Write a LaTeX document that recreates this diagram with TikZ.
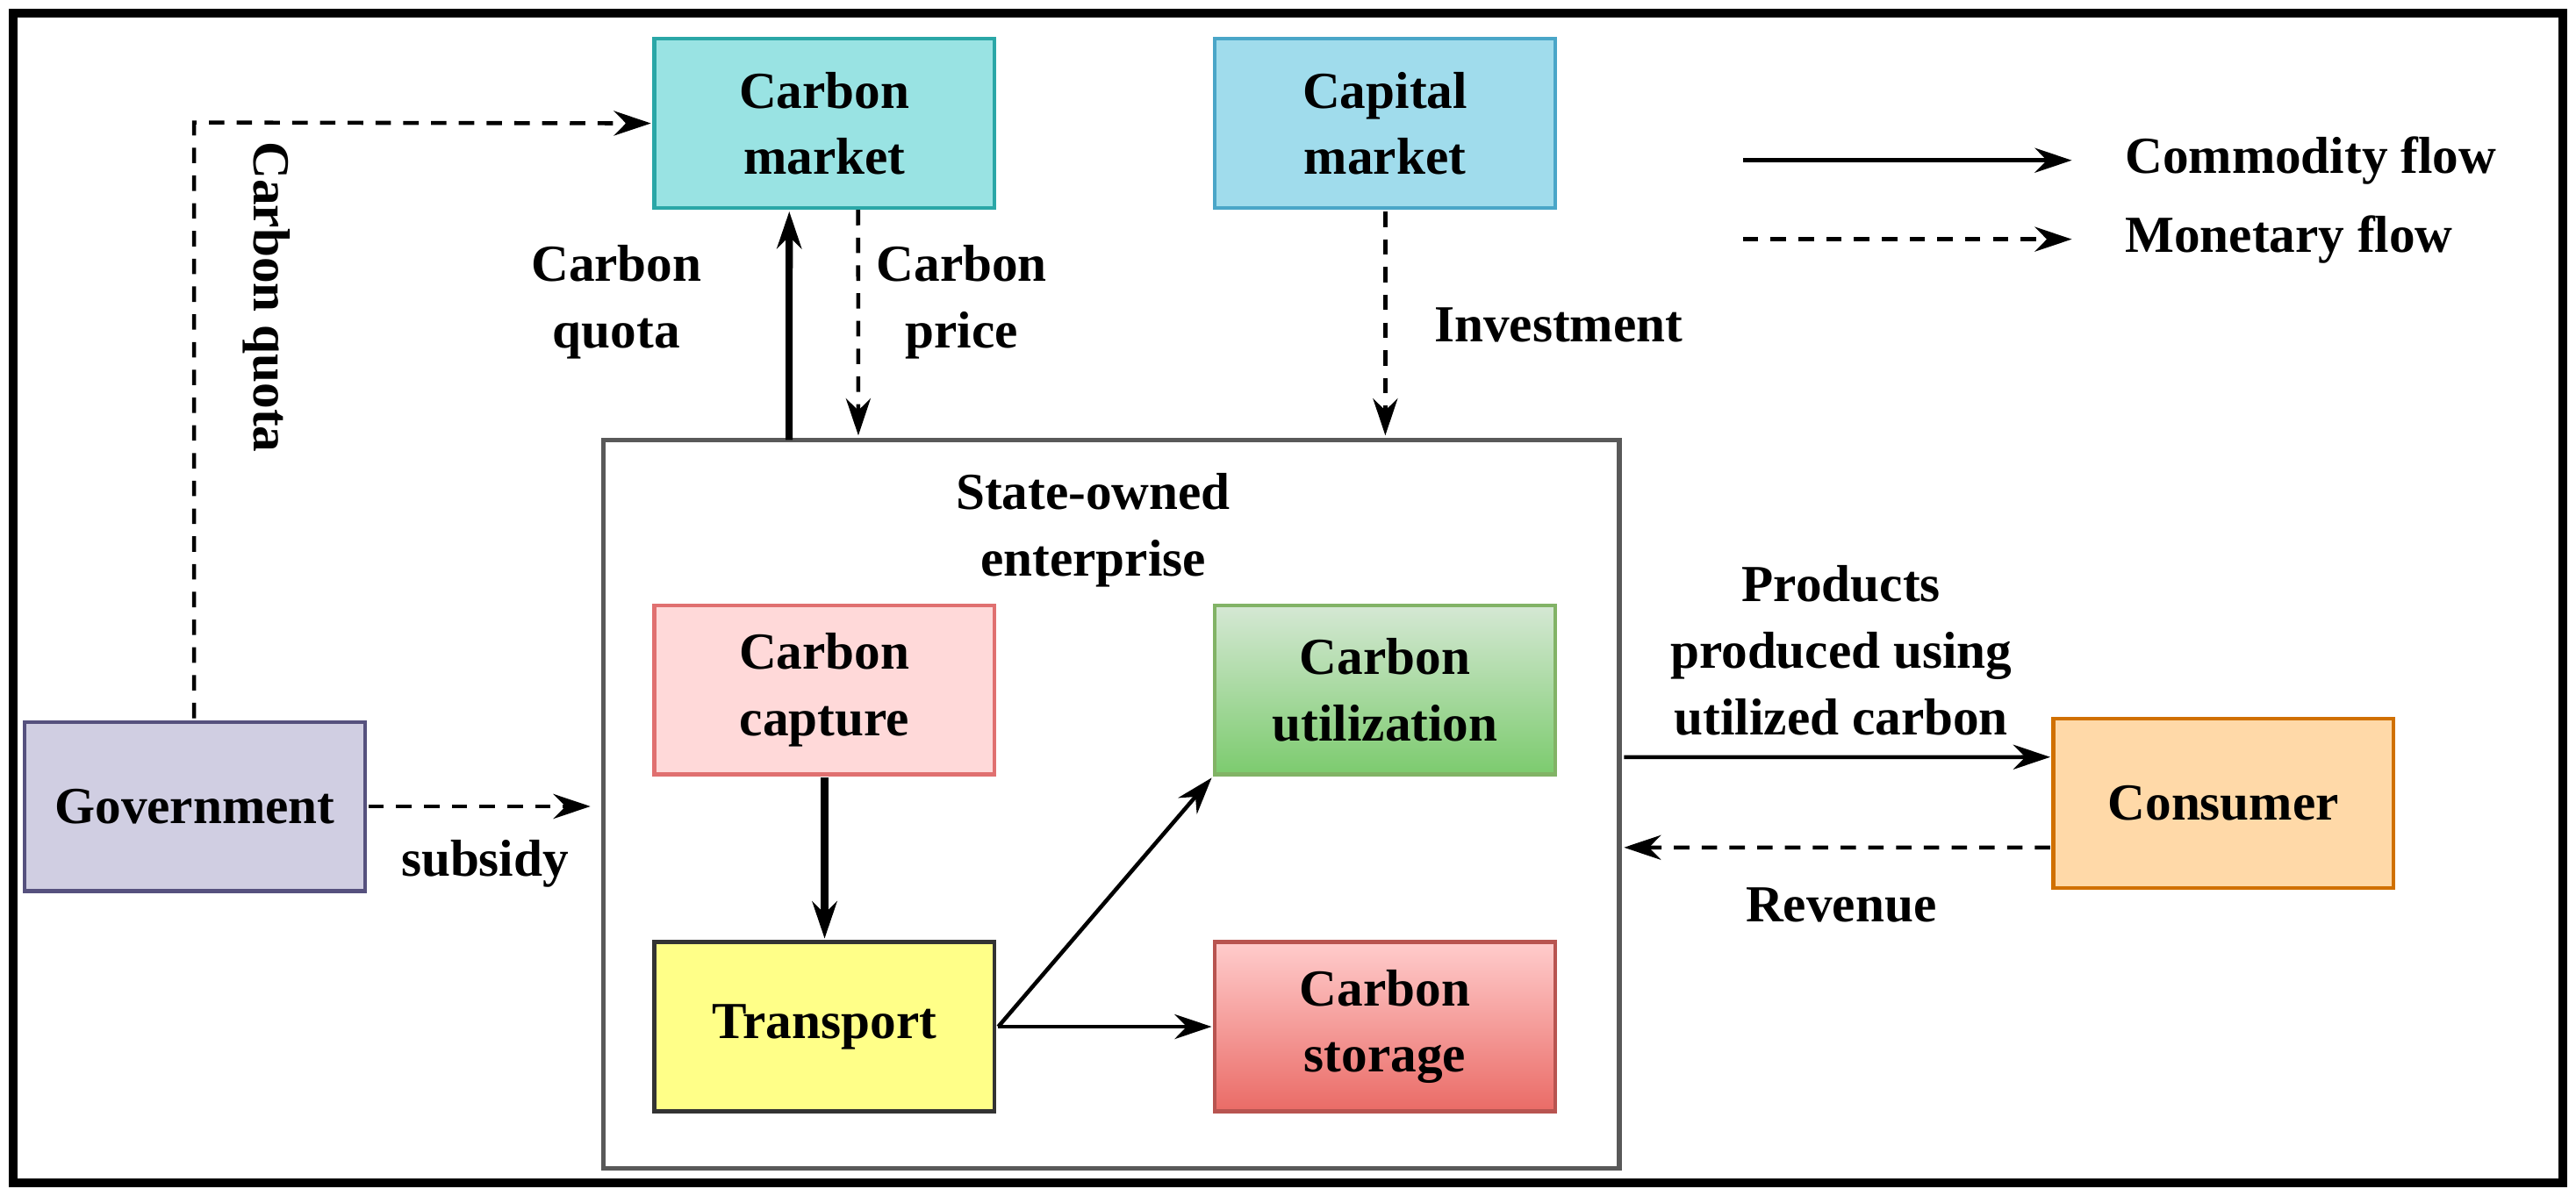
\documentclass[tikz,border=0pt]{standalone}
\usepackage{fontspec}
\setmainfont{Liberation Serif}
\usetikzlibrary{arrows.meta,positioning}
\definecolor{mktcyan}{HTML}{99E3E3}
\definecolor{mktcyanb}{HTML}{2AA7A7}
\definecolor{capblue}{HTML}{A0DCEC}
\definecolor{capblueb}{HTML}{4AA6C8}
\definecolor{ccpink}{HTML}{FFD9D9}
\definecolor{ccpinkb}{HTML}{E07070}
\definecolor{utilgreen1}{HTML}{D5E8D4}
\definecolor{utilgreen2}{HTML}{7CCB6E}
\definecolor{utilgreenb}{HTML}{82B366}
\definecolor{transyellow}{HTML}{FFFF88}
\definecolor{stored1}{HTML}{FFCCCC}
\definecolor{stored2}{HTML}{EA6B66}
\definecolor{storedb}{HTML}{B85450}
\definecolor{govlav}{HTML}{D0CEE2}
\definecolor{govlavb}{HTML}{56517E}
\definecolor{consorange}{HTML}{FFD9A8}
\definecolor{consorangeb}{HTML}{D07000}
\begin{document}
\begin{tikzpicture}[scale=1.873, every node/.style={transform shape}, font=\fontsize{9}{11.5}\selectfont\bfseries]
\tikzstyle{box}=[draw, line width=1.2pt, minimum width=2.07cm, minimum height=1.03cm, align=center, inner sep=1pt]
\tikzstyle{lbl}=[align=center]
\tikzstyle{comm}=[line width=1.3pt, -{Stealth[length=12pt,width=8pt]}]
\tikzstyle{money}=[line width=1.3pt, dash pattern=on 5pt off 4pt, -{Stealth[length=12pt,width=8pt]}]
\useasboundingbox (0,0) rectangle (15.67,7.277);
\draw[line width=2.6pt] (0.08,0.08) rectangle (15.59,7.197);
% enterprise frame
\node (soe) [draw=gray!70!black, line width=1.5pt, minimum width=6.18cm, minimum height=4.43cm] at (6.76,2.385) {};
\node (soet) [lbl] at (6.65,4.05) {State-owned\\enterprise};
% boxes
\node (cm) [box, draw=mktcyanb, fill=mktcyan] at (5.015,6.525) {Carbon\\market};
\node (km) [box, draw=capblueb, fill=capblue] at (8.425,6.525) {Capital\\market};
\node (cc) [box, draw=ccpinkb, fill=ccpink] at (5.015,3.08) {Carbon\\capture};
\node (cu) [box, draw=utilgreenb, top color=utilgreen1, bottom color=utilgreen2] at (8.425,3.08) {Carbon\\utilization};
\node (tr) [box, draw=black!80, fill=transyellow] at (5.015,1.03) {Transport};
\node (cs) [box, draw=storedb, top color=stored1, bottom color=stored2] at (8.425,1.03) {Carbon\\storage};
\node (gov) [box, draw=govlavb, fill=govlav] at (1.185,2.37) {Government};
\node (con) [box, draw=consorangeb, fill=consorange] at (13.525,2.39) {Consumer};
% flows
\coordinate (gq) at (1.18,6.53);
\draw[money] (gov.north -| gq) -- (gq) -- (cm.west);
\node (gql) [lbl, rotate=-90] at (1.62,5.47) {Carbon quota};
\draw[money] (gov.east) -- ++(1.35,0) coordinate (gs);
\node (sub) [lbl] at (2.95,2.02) {subsidy};
\draw[comm, line width=2.3pt] (4.8,4.6) coordinate (q0) -- (q0 |- cm.south);
\node (cql) [lbl] at (3.75,5.44) {Carbon\\quota};
\draw[money] (5.22,6.0) coordinate (p0) -- (p0 |- soe.north);
\node (cpl) [lbl] at (5.85,5.44) {Carbon\\price};
\draw[money] (km.south) -- (km.south |- soe.north);
\node (inv) [lbl] at (9.48,5.3) {Investment};
\draw[comm, line width=2.3pt] (cc.south) -- (tr.north);
\draw[comm] (tr.east) -- (cu.south west);
\draw[comm] (tr.east) -- (cs.west |- tr.east);
\draw[comm] (soe.east |- 0,2.67) coordinate (pp) -- (con.west |- pp);
\node (ppl) [lbl] at (11.2,3.32) {Products\\produced using\\utilized carbon};
\draw[money] (con.west |- 0,2.12) coordinate (rv) -- (soe.east |- rv);
\node (rvl) [lbl] at (11.2,1.77) {Revenue};
% legend
\coordinate (la) at (10.6,6.3);
\coordinate (lb) at (12.6,6.3);
\draw[comm] (la) -- (lb);
\node (lcf) [right=0.2cm of lb, anchor=west] {Commodity flow};
\coordinate (lc) at (10.6,5.82);
\coordinate (ld) at (12.6,5.82);
\draw[money] (lc) -- (ld);
\node (lmf) [right=0.2cm of ld, anchor=west] {Monetary flow};
\end{tikzpicture}
\end{document}
